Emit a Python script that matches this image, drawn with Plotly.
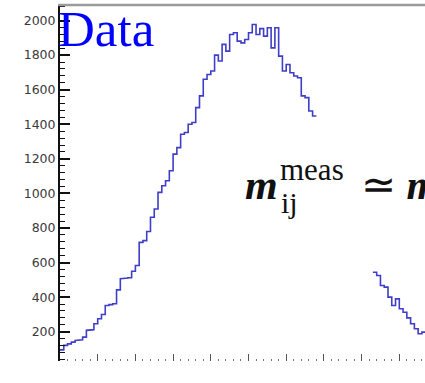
import plotly.graph_objects as go

# Dijet invariant mass histogram (bin width 0.1 in axis units).
# Bins lying under the formula label are not drawn (None).
bin_width = 0.1
counts_left = [95, 121, 130, 140, 150, 154, 169, 208, 212, 246,
               275, 300, 352, 357, 362, 442, 506, 510, 512, 550,
               583, 717, 727, 780, 862, 910, 1006, 1044, 1073, 1131,
               1227, 1265, 1342, 1352, 1400, 1410, 1496, 1564, 1660, 1688,
               1708, 1800, 1766, 1862, 1823, 1919, 1929, 1881, 1871, 1890,
               1929, 1977, 1919, 1953, 1910, 1958, 1842, 1958, 1794, 1708,
               1746, 1698, 1679, 1669, 1564, 1554, 1477, 1448]
counts_hidden = [None] * 15
counts_right = [544, 525, 467, 458, 400, 352, 390, 333, 313, 280,
                246, 217, 188, 198]
counts = counts_left + counts_hidden + counts_right

y_tick_values = [200, 400, 600, 800, 1000, 1200, 1400, 1600, 1800, 2000]
y_tick_labels = [str(v) for v in y_tick_values]

# Build the step outline from bin edges and contents
xs, ys = [], []
for i, c in enumerate(counts):
    lo, hi = i * bin_width, (i + 1) * bin_width
    if c is None:
        if xs and xs[-1] is not None:
            xs.append(None)
            ys.append(None)
        continue
    xs += [lo, hi]
    ys += [c, c]

W, H = 425, 383
ML, MR, MT, MB = 60, 0, 5, 22
pw, ph = W - ML - MR, H - MT - MB


def px(x):
    return (x - ML) / pw


def py(y):
    return (H - MB - y) / ph


fig = go.Figure()
fig.add_trace(go.Scatter(
    x=xs, y=ys, mode="lines",
    line=dict(color="#3e3ec8", width=1.6),
    connectgaps=False, hoverinfo="skip", showlegend=False,
))

serif = "Liberation Serif"
annotations = [
    dict(text="Data", x=px(57), y=py(58), xanchor="left", yanchor="bottom",
         font=dict(family=serif, size=51, color="#0000ff")),
    dict(text="<b><i>m</i></b>", x=px(244), y=py(209), xanchor="left", yanchor="bottom",
         font=dict(family=serif, size=42, color="#111111")),
    dict(text="meas", x=px(279), y=py(188), xanchor="left", yanchor="bottom",
         font=dict(family=serif, size=31, color="#111111")),
    dict(text="ij", x=px(280), y=py(220), xanchor="left", yanchor="bottom",
         font=dict(family=serif, size=30, color="#111111")),
    dict(text="≃ <b><i>m</i></b>", x=px(360), y=py(209), xanchor="left", yanchor="bottom",
         font=dict(family=serif, size=42, color="#111111")),
]
for a in annotations:
    a.update(xref="paper", yref="paper", showarrow=False, borderpad=0)

fig.update_layout(
    width=W, height=H,
    margin=dict(l=ML, r=MR, t=MT, b=MB, pad=0),
    paper_bgcolor="white", plot_bgcolor="white",
    annotations=annotations,
    shapes=[dict(type="line", xref="paper", yref="paper", x0=-0.005, x1=1.0,
                 y0=1.0, y1=1.0, line=dict(color="#9a9a9a", width=2.5))],
    xaxis=dict(
        range=[0, pw / 37.7], showgrid=False, zeroline=False, showline=False,
        tick0=0, dtick=1, ticks="inside", ticklen=7, tickwidth=1.2,
        tickcolor="#555555", showticklabels=False,
        minor=dict(dtick=0.2, ticks="inside", ticklen=2, tickwidth=1.2,
                   tickcolor="#777777"),
    ),
    yaxis=dict(
        range=[30.7, 2089.8], showgrid=False, zeroline=False,
        showline=True, linecolor="#111111", linewidth=2,
        tickvals=y_tick_values, ticktext=y_tick_labels,
        ticks="inside", ticklen=10, tickwidth=1.5, tickcolor="#111111",
        ticklabelstandoff=0,
        tickfont=dict(family="DejaVu Sans", size=12.5, color="#3a3a3a"),
        minor=dict(dtick=40, tick0=0, ticks="inside", ticklen=5, tickwidth=1.2,
                   tickcolor="#111111"),
    ),
)

fig.write_html("out.html")
